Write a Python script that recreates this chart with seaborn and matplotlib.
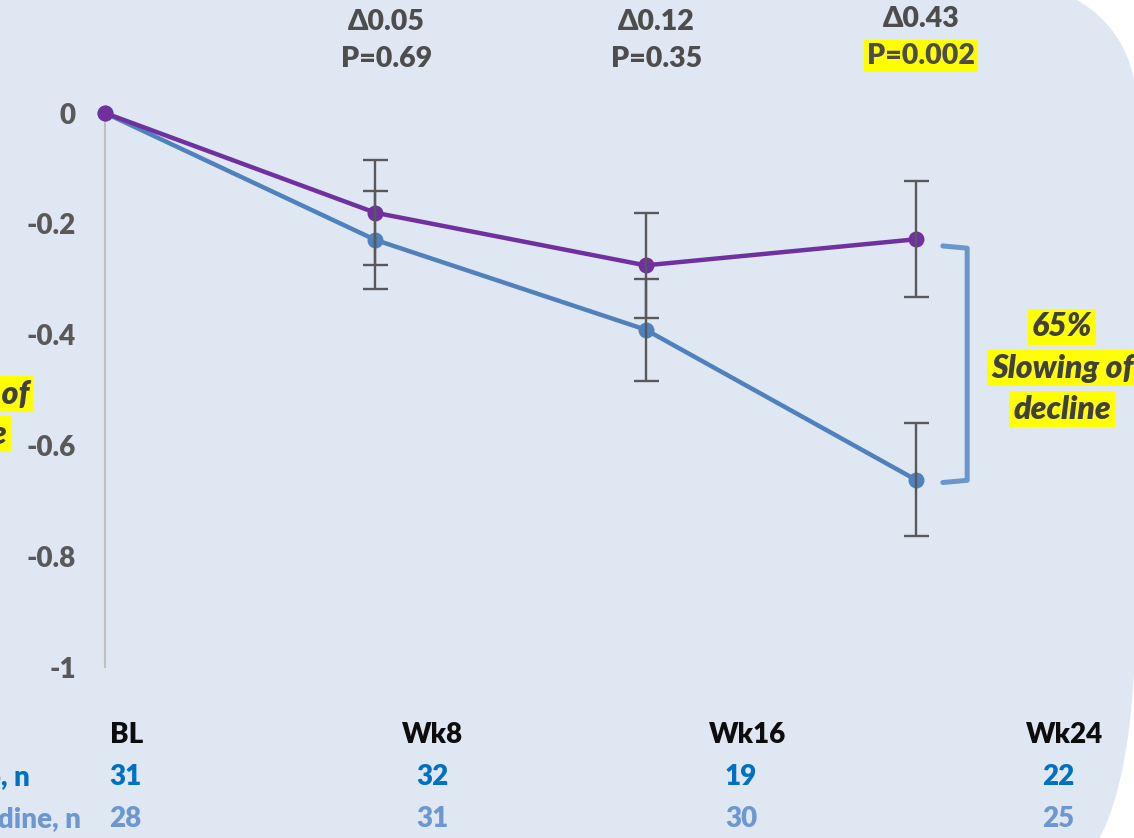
import numpy as np
import pandas as pd
import matplotlib
matplotlib.use("Agg")
import matplotlib.pyplot as plt
import matplotlib.transforms as mtransforms
from matplotlib.path import Path
from matplotlib.patches import PathPatch
import seaborn as sns

# values
visits = [0, 1, 2, 3]
blue_mean = [0.0, -0.229, -0.391, -0.662]
blue_err = [0.0, 0.088, 0.092, 0.102]
purple_mean = [0.0, -0.180, -0.275, -0.228]
purple_err = [0.0, 0.095, 0.095, 0.105]

delta_labels = ["\u03940.05", "\u03940.12", "\u03940.43"]
p_labels = ["P=0.69", "P=0.35", "P=0.002"]
p_highlight = [False, False, True]

y_ticks = [0, -0.2, -0.4, -0.6, -0.8, -1]
y_ticklabels = ["0", "-0.2", "-0.4", "-0.6", "-0.8", "-1"]

col_labels = ["BL", "Wk8", "Wk16", "Wk24"]
row1_label = "Placebo, n"
row1_n = ["31", "32", "19", "22"]
row2_label = "Amantadine, n"
row2_n = ["28", "31", "30", "25"]

BG = "#dfe7f2"
PURPLE = "#7030a0"
BLUE = "#4f81bd"
GREY_TXT = "#4d4d4d"
ERR = "#595959"
WEIGHT = "heavy"

sns.set_style("white")
plt.rcParams["font.family"] = ["Lato", "DejaVu Sans"]

W, H = 1134, 838
fig = plt.figure(figsize=(W / 100, H / 100), dpi=100)
fig.patch.set_facecolor("white")

# slide background with rounded right side (pixel coords)
bg = fig.add_axes([0, 0, 1, 1], zorder=-5)
bg.set_xlim(0, W)
bg.set_ylim(H, 0)
bg.axis("off")
cx, cy, r = 1020, 101, 116
ang = np.linspace(-np.pi / 2, 0, 30)
arc = [(cx + r * np.cos(a), cy + r * np.sin(a)) for a in ang]
verts = [(-20, -40), (cx, -40)] + [(cx, cy - r)] + arc + [(1136, 600), (1136, 800), (1085, 860), (-20, 860), (-20, -40)]
codes = ([Path.MOVETO, Path.LINETO, Path.LINETO] + [Path.LINETO] * len(arc)
         + [Path.LINETO, Path.CURVE3, Path.CURVE3, Path.LINETO, Path.CLOSEPOLY])
bg.add_patch(PathPatch(Path(verts, codes), fc=BG, ec="none"))

# main axes
ax = fig.add_axes([105 / W, 1 - 667 / H, 1000 / W, 554 / H])
ax.patch.set_alpha(0)

df = pd.DataFrame({
    "visit": visits * 2,
    "change": blue_mean + purple_mean,
    "group": ["blue"] * 4 + ["purple"] * 4,
})
sns.lineplot(data=df, x="visit", y="change", hue="group", hue_order=["blue", "purple"],
             palette={"blue": BLUE, "purple": PURPLE}, marker="o", markersize=11.5,
             markeredgewidth=0, linewidth=3.2, legend=False, ax=ax, clip_on=False, zorder=3)

for m, e in [(blue_mean, blue_err), (purple_mean, purple_err)]:
    ax.errorbar(visits[1:], m[1:], yerr=e[1:], fmt="none", ecolor=ERR, elinewidth=1.7,
                capsize=9, capthick=1.7, zorder=4, clip_on=False)

ax.set_xlim(0, 3.7)
ax.set_ylim(-1, 0)
ax.set_yticks(y_ticks)
ax.set_yticklabels(y_ticklabels, fontsize=20, fontweight=WEIGHT, color="#595959")
ax.set_xticks([])
ax.set_xlabel("")
ax.set_ylabel("")
for s in ["top", "right", "bottom"]:
    ax.spines[s].set_visible(False)
ax.spines["left"].set_color("#bfbfbf")
ax.spines["left"].set_linewidth(1.5)
ax.tick_params(axis="y", length=7, width=1.5, color="#bfbfbf", pad=14)

# delta / p-value annotations above visits
trans = mtransforms.blended_transform_factory(ax.transData, ax.transAxes)
for i, (d, p, hl) in enumerate(zip(delta_labels, p_labels, p_highlight)):
    xi = visits[i + 1] + (0.04 if i < 2 else 0.02)
    ax.text(xi, 1.165 if i < 2 else 1.17, d, transform=trans, ha="center", va="center",
            fontsize=20.5, fontweight=WEIGHT, color=GREY_TXT)
    box = dict(boxstyle="square,pad=0.1", fc="#ffff00", ec="none") if hl else None
    ax.text(xi, 1.098 if i < 2 else 1.103, p, transform=trans, ha="center", va="center",
            fontsize=20.5, fontweight=WEIGHT, color=GREY_TXT, bbox=box)

# bracket between the two wk24 values
bx0, bx1 = visits[3] + 0.10, visits[3] + 0.19
ya, yb = purple_mean[3] - 0.012, blue_mean[3] - 0.005
ax.plot([bx0, bx1, bx1, bx0], [ya, ya - 0.004, yb + 0.004, yb], color="#6a96cc",
        lw=3.6, solid_joinstyle="round", clip_on=False, zorder=3)

# callout text, one highlight per line
hl_box = dict(boxstyle="square,pad=0.12", fc="#ffff00", ec="none")
for txt, yy in [("65%", 327), ("Slowing of", 368), ("decline", 409)]:
    fig.text(1062 / W, 1 - yy / H, txt, ha="center", va="center", fontsize=23,
             fontweight=WEIGHT, fontstyle="italic", color="#404040", bbox=hl_box)
for txt, yy in [("Slowing of", 394), ("decline", 434)]:
    fig.text(-42 / W, 1 - yy / H, txt, ha="center", va="center", fontsize=23,
             fontweight=WEIGHT, fontstyle="italic", color="#404040", bbox=hl_box)

# n table under the chart
col_x = [127, 432, 748, 1065]
num_x = [125, 432, 741, 1058]
for lab, xx in zip(col_labels, col_x):
    fig.text(xx / W, 1 - 735 / H, lab, ha="center", va="center", fontsize=20,
             fontweight=WEIGHT, color="#0d0d0d")
fig.text(30 / W, 1 - 777 / H, row1_label, ha="right", va="center", fontsize=20,
         fontweight=WEIGHT, color="#0070c0")
fig.text(81 / W, 1 - 819 / H, row2_label, ha="right", va="center", fontsize=20,
         fontweight=WEIGHT, color="#6d97d0")
for n1, n2, xx in zip(row1_n, row2_n, num_x):
    fig.text(xx / W, 1 - 777 / H, n1, ha="center", va="center", fontsize=20,
             fontweight=WEIGHT, color="#0070c0")
    fig.text(xx / W, 1 - 819 / H, n2, ha="center", va="center", fontsize=20,
             fontweight=WEIGHT, color="#6d97d0")

fig.savefig("out.png", dpi=100, facecolor=fig.get_facecolor())
